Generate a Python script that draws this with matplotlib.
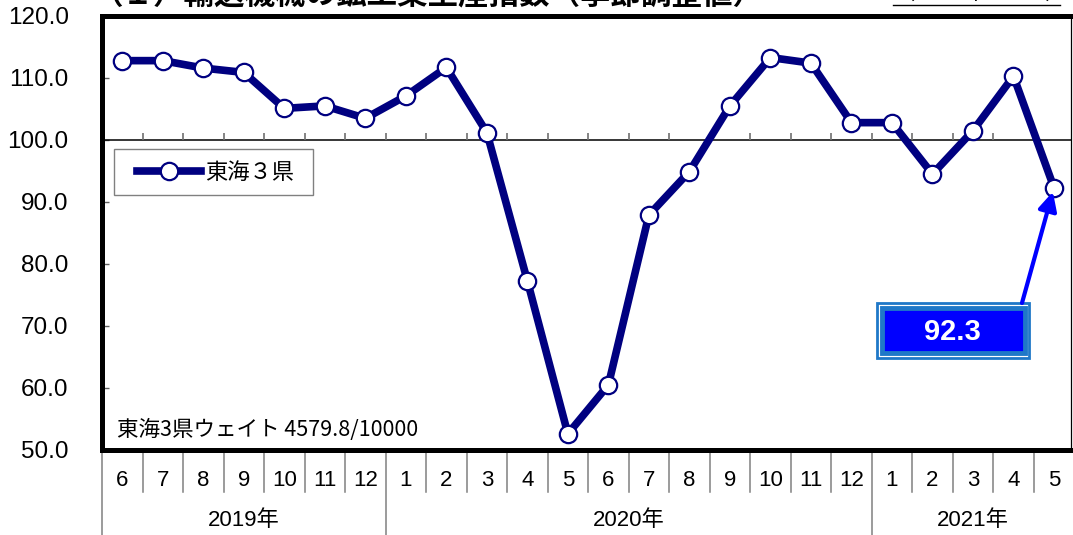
import matplotlib
matplotlib.use("Agg")
import matplotlib.pyplot as plt
from matplotlib import font_manager as fm
from matplotlib.patches import Rectangle
from matplotlib.lines import Line2D
import matplotlib.transforms as mtransforms

names = sorted({f.name for f in fm.fontManager.ttflist})

# ---- data ----
months = ["6", "7", "8", "9", "10", "11", "12",
          "1", "2", "3", "4", "5", "6", "7", "8", "9", "10", "11", "12",
          "1", "2", "3", "4", "5"]
values = [112.8, 112.8, 111.6, 110.9, 105.1, 105.5, 103.5,
          107.1, 111.7, 101.2, 77.3, 52.6, 60.5, 87.9, 94.9, 105.5, 113.3, 112.4, 102.8,
          102.8, 94.5, 101.5, 110.3, 92.3]
year_labels = ["2019年", "2020年", "2021年"]
year_counts = [7, 12, 5]
series_name = "東海３県"
weight_note = "東海3県ウェイト 4579.8/10000"
title = "（１）輸送機械の鉱工業生産指数（季節調整値）"
base_note = "（2015年＝100）"
yticks = [50, 60, 70, 80, 90, 100, 110, 120]

narrow = "Liberation Sans Narrow" if "Liberation Sans Narrow" in names else "Liberation Sans"
cjk = ["Noto Sans CJK JP", "DejaVu Sans"]

W, H = 1073, 535
fig = plt.figure(figsize=(W / 100, H / 100), dpi=100)
L, R, T, B = 102, 1071, 16, 450
ax = fig.add_axes([L / W, 1 - B / H, (R - L) / W, (B - T) / H])

def fx(px):
    return (px - L) / (R - L)
def fy(py):
    return (B - py) / (B - T)

n = len(values)
x = list(range(n))
ax.set_xlim(-0.5, n - 0.5 - 0.08)
ax.set_ylim(50, 120)

navy = "#000080"
ax.plot(x, values, color=navy, lw=5.5, marker="o", ms=12.5, mfc="white",
        mec=navy, mew=1.6, zorder=5, clip_on=False, label=series_name,
        solid_joinstyle="miter")

# spines
for s in ["left", "top", "bottom"]:
    ax.spines[s].set_linewidth(3.6)
    ax.spines[s].set_color("black")
ax.spines["right"].set_linewidth(0.9)
ax.spines["right"].set_color("black")

# y axis
ax.set_yticks(yticks)
ax.set_yticklabels([f"{v:.1f}" for v in yticks], fontfamily=narrow, fontsize=17.5)
ax.tick_params(axis="y", direction="in", length=5, width=1, color="#606060", pad=24)
ax.set_xticks([])

# category axis crossing at 100
ax.axhline(100, color="black", lw=1.1, zorder=2)
ax.vlines([k - 0.5 for k in range(1, n)], 100, 101.15, color="#707070", lw=1.2, zorder=2)

# category table below
trans = mtransforms.blended_transform_factory(ax.transData, ax.transAxes)
h_month = (492 - B) / (B - T)
h_year = (540 - B) / (B - T)
yb = []
start = 0
for c in year_counts:
    yb.append(start)
    start += c
for k in range(0, n):
    depth = h_year if k in yb else h_month
    ax.add_line(Line2D([k - 0.5, k - 0.5], [0, -depth], transform=trans,
                       color="#808080", lw=1.1, clip_on=False))
for i, m in enumerate(months):
    ax.text(i, -(480 - B) / (B - T), m, transform=trans, ha="center", va="center",
            fontfamily=narrow, fontsize=16)
start = 0
for lab, c in zip(year_labels, year_counts):
    ax.text(start + (c - 1) / 2, -(521 - B) / (B - T), lab, transform=trans,
            ha="center", va="center", fontfamily=[narrow, "Noto Sans CJK JP"], fontsize=16)
    start += c

# legend (frame drawn separately)
ax.add_patch(Rectangle((fx(114), fy(195)), fx(313) - fx(114), fy(149) - fy(195),
                       transform=ax.transAxes, fc="white", ec="#808080", lw=1.0, zorder=4))
leg = ax.legend(loc="center left", bbox_to_anchor=(fx(137), fy(172)),
                borderaxespad=0, frameon=False, prop={"family": cjk, "size": 16},
                handlelength=2.9, handletextpad=0.15, borderpad=0)
leg.set_zorder(6)

# weight note
ax.text(fx(117), fy(430), weight_note, transform=ax.transAxes,
        ha="left", va="center", fontfamily=cjk, fontsize=15.5)

# value box
steel = "#1F78C8"
ax.add_patch(Rectangle((fx(877), fy(357.5)), fx(1029) - fx(877), fy(302.5) - fy(357.5),
                       transform=ax.transAxes, fc="white", ec=steel, lw=2.0, zorder=6))
ax.add_patch(Rectangle((fx(882), fy(353)), fx(1025) - fx(882), fy(308) - fy(353),
                       transform=ax.transAxes, fc="#0000FF", ec=steel, lw=3.5, zorder=7))
ax.text(fx(952), fy(332), f"{values[-1]:.1f}", transform=ax.transAxes, ha="center",
        va="center", color="white", fontweight="bold", fontfamily="Liberation Sans",
        fontsize=21, zorder=8)
ax.annotate("", xy=(n - 1, values[-1]), xycoords="data",
            xytext=(fx(1022), fy(303)), textcoords="axes fraction",
            arrowprops=dict(arrowstyle="-|>", color="#0000FF", lw=3,
                            mutation_scale=28, shrinkA=0, shrinkB=3),
            zorder=9)

# clipped title texts at top (cut off in the reference as well)
fig.text(93 / W, 1 - 11 / H, title, ha="left", va="bottom", fontfamily=cjk,
         fontweight="bold", fontsize=22)
fig.text(893 / W, 1 - 4 / H, base_note, ha="left", va="bottom", fontfamily=cjk,
         fontsize=16)
fig.add_artist(Line2D([893 / W, 1060 / W], [1 - 5 / H, 1 - 5 / H], color="black", lw=1))

fig.savefig("out.png", dpi=100)
